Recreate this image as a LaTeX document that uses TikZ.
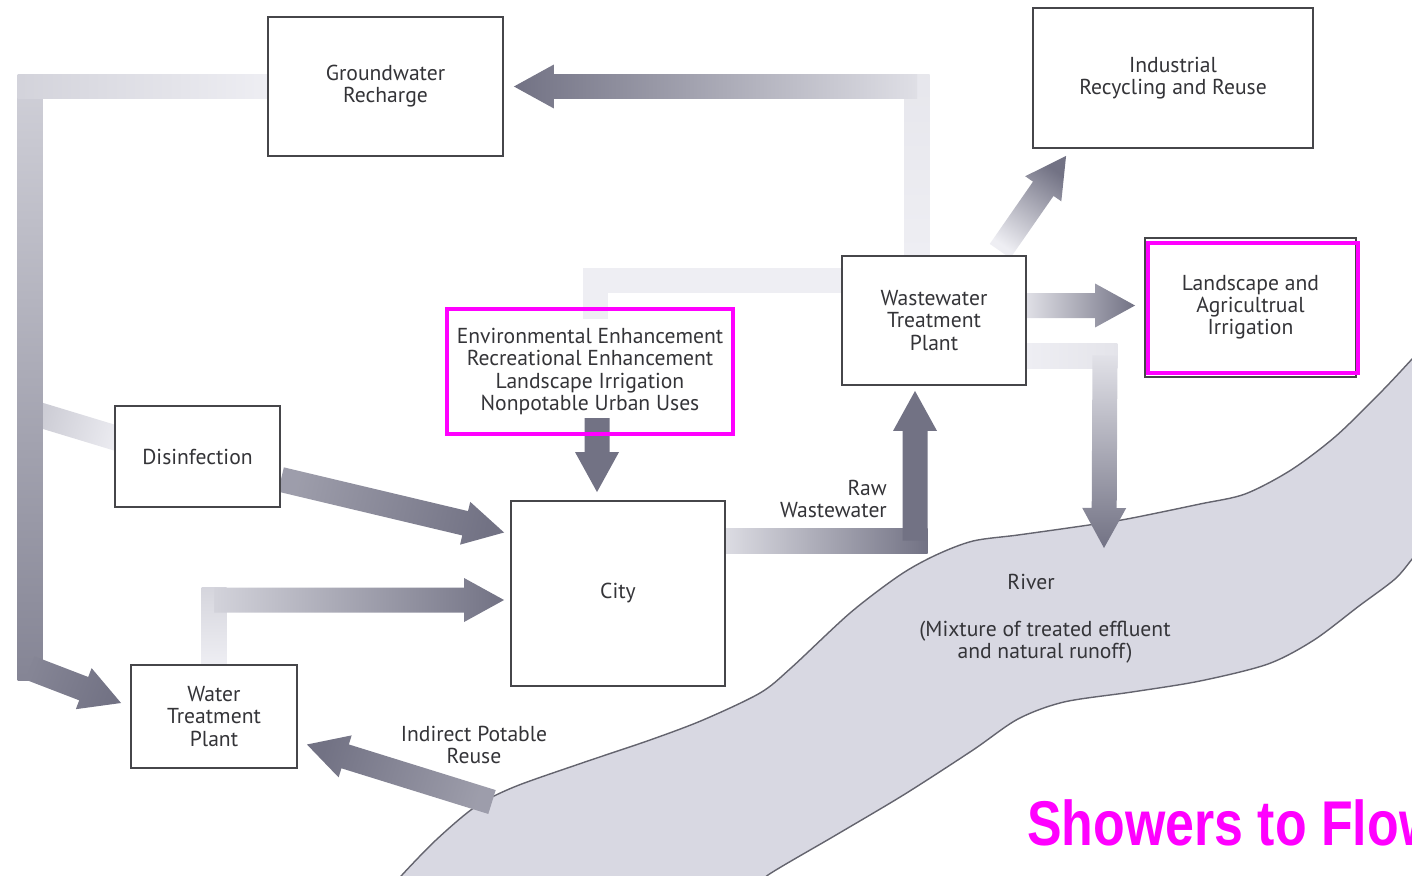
\documentclass[tikz,border=0pt]{standalone}
\usepackage{fontspec}
\setmainfont{PT Sans}
\newfontfamily\bannerfont[FakeStretch=0.82]{Liberation Sans}
\usepackage{tikz}
\usetikzlibrary{calc,positioning,backgrounds}

\definecolor{ink}{RGB}{52,52,56}
\definecolor{boxline}{RGB}{70,70,74}
\definecolor{pipedark}{RGB}{114,114,132}
\definecolor{pipepale}{RGB}{238,238,243}
\colorlet{pipemid}{pipedark!65!pipepale}
\definecolor{riverfill}{RGB}{216,216,226}
\definecolor{riverline}{RGB}{100,100,110}
\definecolor{marker}{RGB}{255,0,255}

\begin{document}
\begin{tikzpicture}[
  x=0.02cm, y=-0.02cm,
  font=\fontsize{12.3}{12.6}\selectfont,
  box/.style={draw=boxline, line width=1.1pt, fill=white, text=ink, align=center},
  marked/.style={draw=marker, line width=2.4pt, text=ink, align=center},
  tag/.style={text=ink, align=center},
  river/.style={fill=riverfill, draw=riverline, line width=0.8pt},
  % band without a head, runs on 2.5mm past its end to fill a corner
  shaft/.style={to path={
    let \p2=($(\tikztotarget)!-2.5mm!(\tikztostart)$) in
    ($(\tikztostart)!2.5mm!90:(\tikztotarget)$) -- ($(\p2)!2.5mm!-90:(\tikztostart)$)
    -- ($(\p2)!2.5mm!90:(\tikztostart)$) -- ($(\tikztostart)!2.5mm!-90:(\tikztotarget)$) -- cycle}},
  % band with a block head at the target
  pipe/.style={to path={
    let \p1=($(\tikztotarget)!8mm!(\tikztostart)$) in
    ($(\tikztostart)!2.5mm!90:(\tikztotarget)$) -- ($(\p1)!2.5mm!-90:(\tikztostart)$)
    -- ($(\p1)!4.4mm!-90:(\tikztostart)$) -- (\tikztotarget)
    -- ($(\p1)!4.4mm!90:(\tikztostart)$) -- ($(\p1)!2.5mm!90:(\tikztostart)$)
    -- ($(\tikztostart)!2.5mm!-90:(\tikztotarget)$) -- cycle}},
  % shading from pale tail to dark head; the angle is the flow direction + 90
  flow/.style n args={3}{left color=#1, right color=#2, shading angle=#3}]

  \useasboundingbox (0,0) rectangle (1412,875);

  % boxes
  \node[box, minimum width=4.7cm, minimum height=2.78cm] (gw) at (385.5,86.5) {Groundwater\\Recharge};
  \node[box, minimum width=5.6cm, minimum height=2.8cm] (ind) at (1173,78) {Industrial\\Recycling and Reuse};
  \node[box, minimum width=3.68cm, minimum height=2.58cm] (wwtp) at (934,320.5) {Wastewater\\Treatment\\Plant};
  \node[box, minimum width=4.22cm, minimum height=2.78cm] (irr) at (1250.5,307.5) {Landscape and\\Agricultrual\\Irrigation};
  \node[marked, minimum width=4.2cm, minimum height=2.6cm] (irr mark) at (1253,308) {};
  \node[marked, minimum width=5.72cm, minimum height=2.5cm] (env) at (590,371.5)
    {Environmental Enhancement\\Recreational Enhancement\\Landscape Irrigation\\Nonpotable Urban Uses};
  \node[box, minimum width=3.3cm, minimum height=2.02cm] (dis) at (197.5,456.5) {Disinfection};
  \node[box, minimum width=4.28cm, minimum height=3.7cm] (city) at (618,593.5) {\raisebox{3pt}{City}};
  \node[box, minimum width=3.32cm, minimum height=2.06cm] (wtp) at (214,716.5) {Water\\Treatment\\Plant};

  % labels
  \node[tag, anchor=east, align=right] (raw) at (893,499) {Raw\\Wastewater};
  \node[tag] (ipr) at (474,745) {Indirect Potable\\Reuse};
  \node[tag] (river name) at (1031,582) {River};
  \node[tag] (mix) at (1045,642) {(Mixture of treated effluent\\and natural runoff)};
  \node[anchor=base west, inner sep=0pt, text=marker,
    font=\bannerfont\bfseries\fontsize{36}{40}\selectfont] (banner) at (1027,845) {Showers to Flow};

  % ends and bends of the flow bands
  \coordinate (wwtp up) at ($(wwtp.north)+(-17,0)$);
  \coordinate (gw bend) at (wwtp up |- gw.east);
  \coordinate (gw in) at ($(gw.east)+(10,0)$);
  \coordinate (gw out) at (gw.west);
  \coordinate (left top) at (30,86.5);
  \coordinate (left feed) at (30,412);
  \coordinate (left bottom) at (30,668);
  \coordinate (wtp in) at ($(wtp.west)+(-9,-13.5)$);
  \coordinate (dis in) at ($(dis.west)+(0,-19)$);
  \coordinate (dis out) at ($(dis.east)+(0,23)$);
  \coordinate (city in1) at ($(city.west)+(-6,-61)$);
  \coordinate (city in2) at ($(city.west)+(-6,6.5)$);
  \coordinate (wtp up) at (wtp.north);
  \coordinate (wtp bend) at (wtp up |- city in2);
  \coordinate (env out) at ($(env.south)+(7,-18)$);
  \coordinate (city top) at ($(city.north)+(-21,-8)$);
  \coordinate (city out) at ($(city.east)+(0,-53)$);
  \coordinate (wwtp in) at ($(wwtp.south)+(-19,5)$);
  \coordinate (raw bend) at (wwtp in |- city out);
  \coordinate (wwtp top) at ($(wwtp.north)+(66,-4)$);
  \coordinate (ind in) at ($(ind.south west)+(34,7)$);
  \coordinate (wwtp right) at ($(wwtp.east)+(0,-15)$);
  \coordinate (irr in) at ($(irr.west)+(-9,-2)$);
  \coordinate (wwtp low) at ($(wwtp.east)+(0,35)$);
  \coordinate (fall bend) at ($(wwtp low)+(78,0)$);
  \coordinate (river in) at (1104,548);
  \coordinate (wwtp left) at ($(wwtp.west)+(0,-40)$);
  \coordinate (env in) at ($(env.north)+(5,0)$);
  \coordinate (env bend) at (env in |- wwtp left);
  \coordinate (river out) at (492,802);
  \coordinate (wtp in2) at ($(wtp.east)+(9,28)$);

  \begin{scope}[on background layer]
    % the river
    \filldraw[river] plot[smooth] coordinates {(390,890) (402,875) (436,840) (475,807) (514,787)
      (582,763) (650,740) (703,720) (760,693) (791,668) (850,613) (900,575) (936,555) (973,541)
      (1018,535) (1082,526) (1127,519) (1200,504) (1245,494) (1291,470) (1336,436) (1382,391)
      (1413,358) (1425,345)}
      -- plot[smooth] coordinates {(1425,545) (1413,558) (1395,579) (1359,606) (1314,640)
      (1268,664) (1200,681) (1132,692) (1064,702) (1018,719) (973,750) (905,794) (836,835)
      (768,875) (755,890)} -- cycle;

    % treated water up and over to recharge
    \shade[flow={pipepale}{pipepale!94!pipedark}{180}] (wwtp up) to[shaft] (gw bend);
    \shade[flow={pipepale!88!pipedark}{pipedark}{270}] (gw bend) to[pipe] (gw in);
    % recharge down the left side
    \shade[flow={pipepale!70!pipedark}{pipepale}{74}] (left feed) to[shaft] (dis in);
    \shade[flow={pipepale!75!pipedark}{pipedark!85!pipepale}{0}] (left top) to[shaft] (left bottom);
    \shade[flow={pipepale}{pipepale!78!pipedark}{270}] (gw out) to[shaft] (left top);
    \shade[flow={pipedark!85!pipepale}{pipedark}{69}] (left bottom) to[pipe] (wtp in);
    % into the city
    \shade[flow={pipemid}{pipedark}{77}] (dis out) to[pipe] (city in1);
    \shade[flow={pipepale}{pipepale!80!pipedark}{180}] (wtp up) to[shaft] (wtp bend);
    \shade[flow={pipepale!78!pipedark}{pipedark}{90}] (wtp bend) to[pipe] (city in2);
    \fill[pipedark] (env out) to[pipe] (city top);
    % raw wastewater
    \shade[flow={pipepale!85!pipedark}{pipedark}{90}] (city out) to[shaft] (raw bend);
    \fill[pipedark] (raw bend) to[pipe] (wwtp in);
    % reuse out of the treatment plant
    \shade[flow={pipepale}{pipedark}{145}] (wwtp top) to[pipe] (ind in);
    \shade[flow={pipepale!88!pipedark}{pipedark}{90}] (wwtp right) to[pipe] (irr in);
    \shade[flow={pipepale}{pipepale!92!pipedark}{90}] (wwtp low) to[shaft] (fall bend);
    \shade[flow={pipepale!90!pipedark}{pipedark}{0}] (fall bend) to[pipe] (river in);
    \fill[pipepale] (wwtp left) to[shaft] (env bend);
    \fill[pipepale] (env bend) to[shaft] (env in);
    % indirect potable reuse
    \shade[flow={pipemid}{pipedark}{253}] (river out) to[pipe] (wtp in2);
  \end{scope}
\end{tikzpicture}
\end{document}
